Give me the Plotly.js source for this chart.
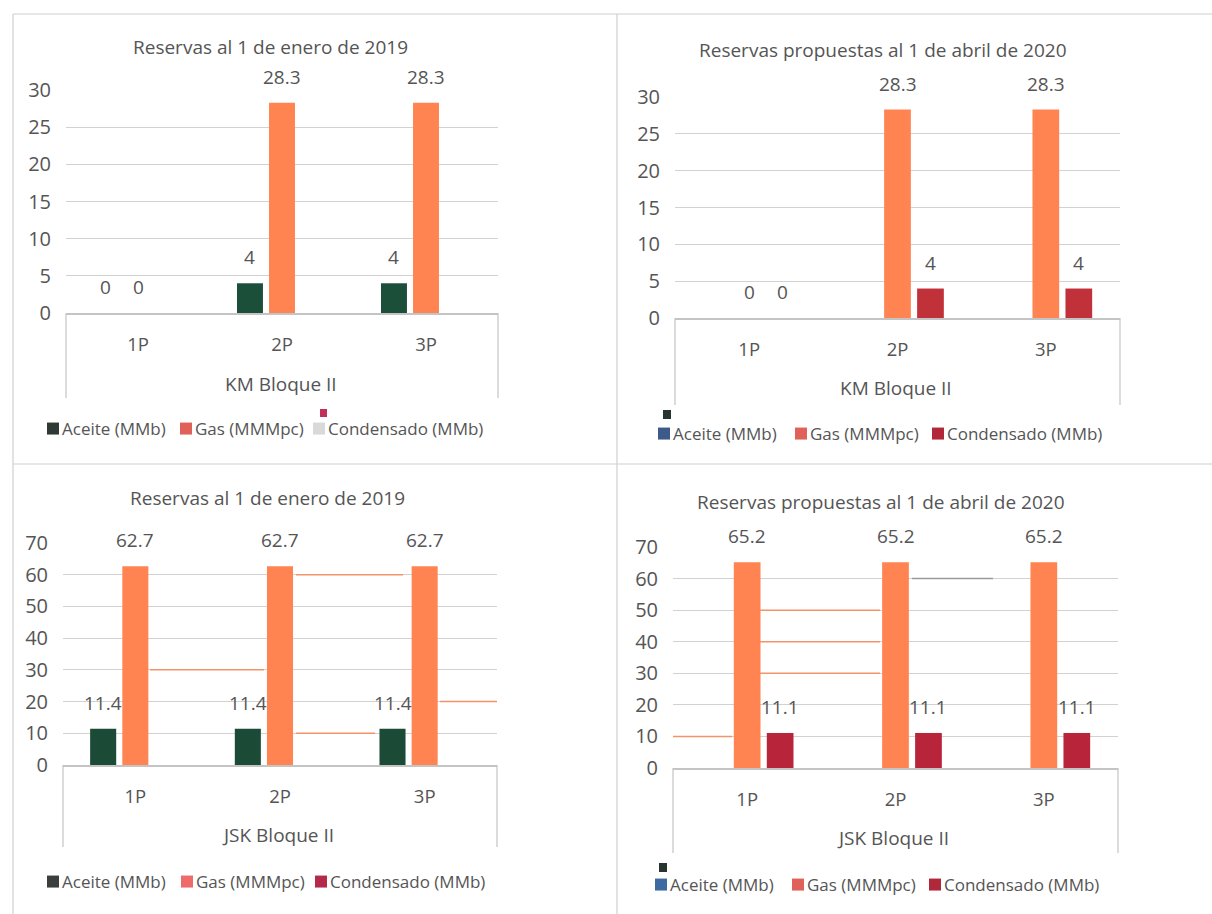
<!DOCTYPE html>
<html>
<head>
<meta charset="utf-8">
<script src="https://cdn.plot.ly/plotly-3.0.1.min.js"></script>
<style>html,body{margin:0;padding:0;background:#fff;}#chart{width:1212px;height:914px;}</style>
</head>
<body>
<div id="chart"></div>
<script>
// ---------- data ----------
const categories = ['1P', '2P', '3P'];
const seriesNames = ['Aceite (MMb)', 'Gas (MMMpc)', 'Condensado (MMb)'];

const km2019Aceite = [0, 4, 4];
const km2019Gas = [0, 28.3, 28.3];
const km2019Condensado = [null, null, null];

const km2020Aceite = [null, null, null];
const km2020Gas = [0, 28.3, 28.3];
const km2020Condensado = [0, 4, 4];

const jsk2019Aceite = [11.4, 11.4, 11.4];
const jsk2019Gas = [62.7, 62.7, 62.7];
const jsk2019Condensado = [null, null, null];

const jsk2020Aceite = [null, null, null];
const jsk2020Gas = [65.2, 65.2, 65.2];
const jsk2020Condensado = [11.1, 11.1, 11.1];

const panelTitles = [
  'Reservas al 1 de enero de 2019',
  'Reservas propuestas al 1 de abril de 2020',
  'Reservas al 1 de enero de 2019',
  'Reservas propuestas al 1 de abril de 2020'
];
const blockNames = ['KM Bloque II', 'KM Bloque II', 'JSK Bloque II', 'JSK Bloque II'];
const yTicksKM = [0, 5, 10, 15, 20, 25, 30];
const yTicksJSK = [0, 10, 20, 30, 40, 50, 60, 70];

// ---------- styling ----------
const W = 1212, H = 914;
const px = v => v / W;
const py = v => 1 - v / H;
const FONT = 'Open Sans, Lato, sans-serif';
const TXT = '#555555';
const BARGAP = 0.333;

const panels = [
  {ax: '', data: [km2019Aceite, km2019Gas, km2019Condensado], ticks: yTicksKM,
   colors: ['#1b4f3a', '#ff8452', '#d9d9d9'], legendColors: ['#2f3a35', '#e0605a', '#d9d9d9'],
   x: [66, 498], y: [313, 90], titleXY: [270, 47], blockXY: [281, 384], boxBottom: 398,
   legendXY: [22, 429], legend: 'legend', entry: 88},
  {ax: '2', data: [km2020Aceite, km2020Gas, km2020Condensado], ticks: yTicksKM,
   colors: ['#3d5a8a', '#ff8452', '#c0313a'], legendColors: ['#3d5a8a', '#e0605a', '#b0283a'],
   x: [675, 1120], y: [318, 97], titleXY: [883, 50], blockXY: [896, 388], boxBottom: 405,
   legendXY: [633, 434], legend: 'legend2', entry: 92},
  {ax: '3', data: [jsk2019Aceite, jsk2019Gas, jsk2019Condensado], ticks: yTicksJSK,
   colors: ['#1b4a36', '#ff8452', '#b52a3e'], legendColors: ['#3a3f3c', '#ef6b6b', '#b52a4a'],
   x: [63, 497], y: [765, 543], titleXY: [267, 498], blockXY: [278, 835], boxBottom: 847,
   legendXY: [22, 882], legend: 'legend3', entry: 89},
  {ax: '4', data: [jsk2020Aceite, jsk2020Gas, jsk2020Condensado], ticks: yTicksJSK,
   colors: ['#3d6aa0', '#ff8452', '#b8253a'], legendColors: ['#3d6aa0', '#e0605a', '#b0283a'],
   x: [673, 1118], y: [768, 547], titleXY: [881, 502], blockXY: [893, 838], boxBottom: 853,
   legendXY: [630, 885], legend: 'legend4', entry: 92}
];

// faint scan artefacts seen in the reference (stray partial rules and specks)
const strayRules = [
  {ax: '3', x: [150, 264], v: 30, c: '#f3936a'}, {ax: '3', x: [296, 403], v: 60, c: '#f3936a'},
  {ax: '3', x: [296, 375], v: 10, c: '#f3936a'}, {ax: '3', x: [440, 497], v: 20, c: '#f3936a'},
  {ax: '4', x: [760, 880], v: 50, c: '#f3936a'}, {ax: '4', x: [760, 880], v: 40, c: '#f3936a'},
  {ax: '4', x: [760, 880], v: 30, c: '#f3936a'}, {ax: '4', x: [673, 732], v: 10, c: '#f3936a'},
  {ax: '4', x: [912, 993], v: 60, c: '#9a9a9a'}
];
const strayMarks = [
  {x: [320, 327], y: [409, 417], c: '#c0305a'},
  {x: [663, 671], y: [410, 419], c: '#263530'},
  {x: [659, 667], y: [863, 872], c: '#263530'}
];

const traces = [];
const annotations = [];
const shapes = [];
const layout = {
  width: W, height: H, autosize: false,
  margin: {l: 0, r: 0, t: 0, b: 0},
  paper_bgcolor: '#ffffff', plot_bgcolor: 'rgba(0,0,0,0)',
  barmode: 'group', bargap: BARGAP, bargroupgap: 0.19,
  font: {family: FONT, color: TXT, size: 16},
  showlegend: true
};

const slot = (1 - BARGAP) / 3;

panels.forEach((p, pi) => {
  const xa = 'x' + p.ax, ya = 'y' + p.ax;
  p.data.forEach((vals, k) => {
    traces.push({
      type: 'bar', x: categories, y: vals, name: seriesNames[k],
      xaxis: xa, yaxis: ya, legend: p.legend,
      marker: {color: p.colors[k]},
      hoverinfo: 'x+y+name'
    });
    vals.forEach((v, i) => {
      if (v === null) return;
      annotations.push({
        xref: xa, yref: ya, x: i + (k - 1) * slot, y: v,
        text: String(v), showarrow: false, yanchor: 'bottom', yshift: 11,
        font: {family: FONT, size: 19, color: TXT}
      });
    });
  });
  const max = p.ticks[p.ticks.length - 1];
  layout['xaxis' + p.ax] = {
    domain: [px(p.x[0]), px(p.x[1])], anchor: ya,
    type: 'category', showgrid: false, zeroline: false,
    showline: true, linecolor: '#c4c4c4', linewidth: 1.5,
    ticks: '', ticklabelstandoff: 14,
    tickfont: {family: FONT, size: 18.5, color: TXT}, fixedrange: true
  };
  layout['yaxis' + p.ax] = {
    domain: [py(p.y[0]), py(p.y[1])], anchor: xa,
    range: [0, max], tickvals: p.ticks, showline: false, zeroline: false,
    gridcolor: '#d2d2d2', gridwidth: 1.2, ticks: '', ticklabelstandoff: 14,
    tickfont: {family: FONT, size: 20, color: TXT}, fixedrange: true
  };
  layout[p.legend] = {
    orientation: 'h', xref: 'paper', yref: 'paper',
    x: px(p.legendXY[0]), y: py(p.legendXY[1]), xanchor: 'left', yanchor: 'middle',
    font: {family: FONT, size: 17, color: TXT}, bgcolor: 'rgba(0,0,0,0)',
    entrywidth: p.entry, entrywidthmode: 'pixels',
    itemclick: false, itemdoubleclick: false
  };
  annotations.push({
    xref: 'paper', yref: 'paper', x: px(p.titleXY[0]), y: py(p.titleXY[1]),
    text: panelTitles[pi], showarrow: false, xanchor: 'center', yanchor: 'middle',
    font: {family: FONT, size: 19, color: TXT}
  });
  annotations.push({
    xref: 'paper', yref: 'paper', x: px(p.blockXY[0]), y: py(p.blockXY[1]),
    text: blockNames[pi], showarrow: false, xanchor: 'center', yanchor: 'middle',
    font: {family: FONT, size: 19, color: TXT}
  });
  [0, 1].forEach(d => {
    shapes.push({
      type: 'line', xref: xa + ' domain', yref: 'paper',
      x0: d, x1: d, y0: py(p.y[0]), y1: py(p.boxBottom),
      line: {color: '#c4c4c4', width: 1.2}
    });
  });
});

strayRules.forEach(s => shapes.push({
  type: 'line', xref: 'paper', yref: 'y' + s.ax,
  x0: px(s.x[0]), x1: px(s.x[1]), y0: s.v, y1: s.v,
  line: {color: s.c, width: 1.5}
}));
strayMarks.forEach(s => shapes.push({
  type: 'rect', xref: 'paper', yref: 'paper',
  x0: px(s.x[0]), x1: px(s.x[1]), y0: py(s.y[0]), y1: py(s.y[1]),
  fillcolor: s.c, line: {width: 0}
}));

const frameLines = [
  [13, 14, 1212, 14], [13, 14, 13, 914], [617, 14, 617, 914], [13, 464, 1212, 464]
];
frameLines.forEach(l => shapes.push({
  type: 'line', xref: 'paper', yref: 'paper',
  x0: px(l[0]), y0: py(l[1]), x1: px(l[2]), y1: py(l[3]),
  line: {color: '#cfcfcf', width: 1.2}
}));

layout.annotations = annotations;
layout.shapes = shapes;

Plotly.newPlot('chart', traces, layout, {displayModeBar: false, staticPlot: true}).then(() => {
  const legendIds = ['legend', 'legend2', 'legend3', 'legend4'];
  legendIds.forEach((id, pi) => {
    document.querySelectorAll('.' + id + ' .scrollbox, .' + id).forEach(e => e.removeAttribute('clip-path'));
    const g = document.querySelectorAll('.' + id + ' .traces');
    g.forEach((tr, k) => {
      const pts = tr.querySelector('.legendpoints');
      if (pts) pts.style.transform = 'translate(11px, 0px)';
      const pth = tr.querySelector('.legendpoints path');
      if (pth) pth.style.fill = panels[pi].legendColors[k];
    });
  });
});
</script>
</body>
</html>
